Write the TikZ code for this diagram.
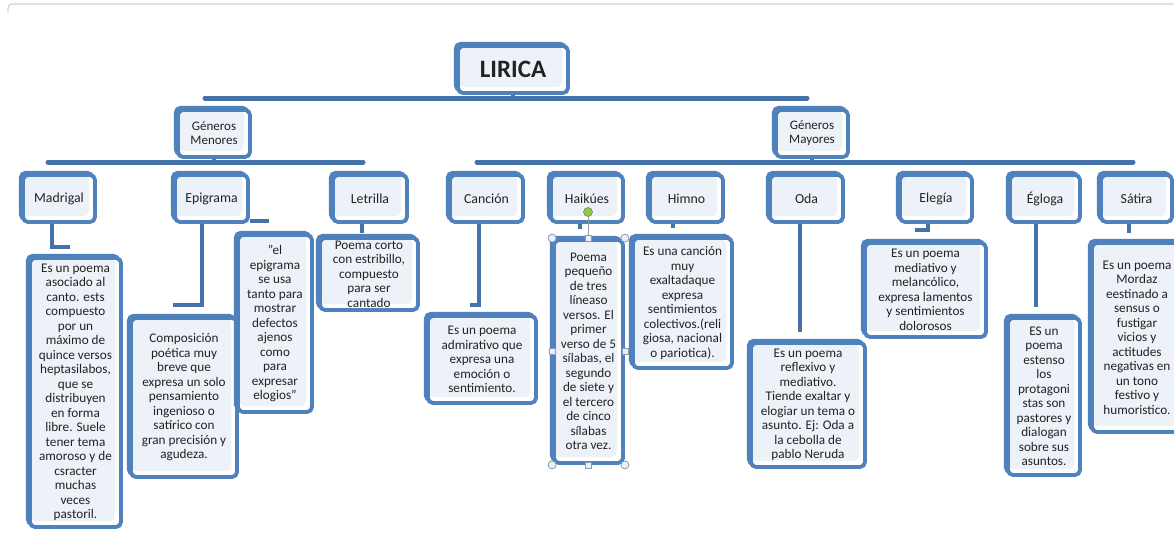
\documentclass[tikz,border=0pt]{standalone}
\usepackage{fontspec}
\setmainfont{Carlito}
\definecolor{bblue}{HTML}{4F81BD}
\definecolor{barc}{HTML}{4672AA}
\definecolor{lightf}{HTML}{EDF2F9}
\definecolor{txt}{HTML}{222222}
\definecolor{handfill}{HTML}{EAF0F7}
\definecolor{handdraw}{HTML}{8A9BB0}
\definecolor{rotgreen}{HTML}{8CCB3C}
\begin{document}
\begin{tikzpicture}[x=1pt,y=-1pt,
  bx/.style={draw=bblue, line width=3.8pt, rounded corners=5pt, fill=white, inner sep=1pt, align=center, text=txt,
    preaction={draw=bblue, line width=3.2pt, transform canvas={shift={(-2.5pt,2.5pt)}}},
    path picture={\fill[lightf] (path picture bounding box.north west) rectangle ([shift={(-6pt,6pt)}]path picture bounding box.south east);}},
  lbl/.style={bx, minimum height=47pt, font=\fontsize{13.8}{15}\selectfont},
  desc/.style={bx, font=\fontsize{13.2}{14.5}\selectfont},
  conn/.style={draw=barc, line width=4.5pt},
  bar/.style={draw=barc, line width=5pt, line cap=round},
  handc/.style={circle, draw=handdraw, fill=handfill, line width=0.8pt, minimum size=8pt, inner sep=0pt},
  hands/.style={rectangle, draw=handdraw, fill=handfill, line width=0.8pt, minimum size=6pt, inner sep=0pt},
]
\useasboundingbox (0,0) rectangle (1174,539);
\fill[white] (0,0) rectangle (1174,539);
\draw[black!18, line width=1.2pt, rounded corners=4pt] (8,12) -- (8,4) -- (1174,4);

% coordinates for bars and connector ends
\coordinate (tbL) at (205,98);
\coordinate (tbR) at (807,98);
\coordinate (lbL) at (48,162);
\coordinate (lbR) at (363,162);
\coordinate (rbL) at (477,162);
\coordinate (rbR) at (1133,162);

\draw[bar] (tbL) -- (tbR);
\draw[bar] (lbL) -- (lbR);
\draw[bar] (rbL) -- (rbR);

% top nodes
\node[lbl, minimum width=110pt, font=\fontsize{25}{27}\selectfont\bfseries] (lirica) at (513,69.5) {LIRICA};
\node[lbl, minimum width=72pt, font=\fontsize{13}{14}\selectfont] (gmen) at (214,133.5) {Géneros\\Menores};
\node[lbl, minimum width=72pt, font=\fontsize{13}{14}\selectfont] (gmay) at (812,133.5) {Géneros\\Mayores};

\draw[conn] (lirica.south) -- (lirica.south |- tbL);
\draw[conn] (gmen.south) -- (gmen.south |- lbL);
\draw[conn] (gmay.south) -- (gmay.south |- rbL);

% level 3 nodes
\node[lbl, minimum width=72pt] (madrigal) at (59,198.5) {Madrigal};
\node[lbl, minimum width=73pt] (epigrama) at (211.5,198.5) {Epigrama};
\node[lbl, minimum width=74pt] (letrilla) at (370,198.5) {Letrilla};
\node[lbl, minimum width=73pt] (cancion) at (486.5,198.5) {Canción};
\node[lbl, minimum width=72pt] (haikues) at (587,198.5) {Haikúes};
\node[lbl, minimum width=73pt] (himno) at (686.5,198.5) {Himno};
\node[lbl, minimum width=73pt] (oda) at (806.5,198.5) {Oda};
\node[lbl, minimum width=72pt] (elegia) at (936,198.5) {Elegía};
\node[lbl, minimum width=70pt] (egloga) at (1045,198.5) {Égloga};
\node[lbl, minimum width=71pt] (satira) at (1136.5,198.5) {Sátira};

% connector free ends
\coordinate (m1) at (52,247);   \coordinate (m2) at (70,247);
\coordinate (e1) at (202,305);  \coordinate (e2) at (173,305);
\coordinate (e3) at (269,221);
\coordinate (l1) at (362,233);
\coordinate (c1) at (479,305);  \coordinate (c2) at (470,305);
\coordinate (h1) at (580,229);
\coordinate (hm1) at (673,228);
\coordinate (o1) at (800,332);
\coordinate (el1) at (928,230); \coordinate (el2) at (915,230);
\coordinate (eg1) at (1036,307);
\coordinate (s1) at (1129,233);

\draw[conn] (madrigal.south -| m1) -- (m1) -- (m2);
\draw[conn] (epigrama.south -| e1) -- (e1) -- (e2);
\draw[conn] (epigrama.east |- e3) -- (e3);
\draw[conn] (letrilla.south -| l1) -- (l1);
\draw[conn] (cancion.south -| c1) -- (c1) -- (c2);
\draw[conn] (haikues.south -| h1) -- (h1);
\draw[conn] (himno.south -| hm1) -- (hm1);
\draw[conn] (oda.south -| o1) -- (o1);
\draw[conn] (elegia.south -| el1) -- (el1) -- (el2);
\draw[conn] (egloga.south -| eg1) -- (eg1);
\draw[conn] (satira.south -| s1) -- (s1);

% descriptions
\node[desc, minimum width=91pt, minimum height=269pt] (dmad) at (75.5,392.5) {Es un poema\\asociado al\\canto. ests\\compuesto\\por un\\máximo de\\quince versos\\heptasilabos,\\que se\\distribuyen\\en forma\\libre. Suele\\tener tema\\amoroso y de\\csracter\\muchas\\veces\\pastoril.};
\node[desc, minimum width=106pt, minimum height=159pt] (dcomp) at (184,397.5) {Composición\\poética muy\\breve que\\expresa un solo\\pensamiento\\ingenioso o\\satírico con\\gran precisión y\\agudeza.};
\node[desc, minimum width=74pt, minimum height=177pt] (dquote) at (275,323.5) {"el\\epigrama\\se usa\\tanto para\\mostrar\\defectos\\ajenos\\como\\para\\expresar\\elogios"};
\node[desc, minimum width=98pt, minimum height=72pt] (dlet) at (369,274) {Poema corto\\con estribillo,\\compuesto\\para ser\\cantado};
\node[desc, minimum width=108pt, minimum height=87pt] (dcan) at (482,359.5) {Es un poema\\admirativo que\\expresa una\\emoción o\\sentimiento.};
\node[desc, minimum width=69pt, minimum height=223pt] (dhai) at (588.5,351.5) {Poema\\pequeño\\de tres\\líneaso\\versos. El\\primer\\verso de 5\\sílabas, el\\segundo\\de siete y\\el tercero\\de cinco\\sílabas\\otra vez.};
\node[desc, minimum width=99pt, minimum height=130pt] (dhim) at (682.5,303) {Es una canción\\muy\\exaltadaque\\expresa\\sentimientos\\colectivos.(reli\\giosa, nacional\\o pariotica).};
\node[desc, minimum width=114pt, minimum height=124pt] (doda) at (808,405) {Es un poema\\reflexivo y\\mediativo.\\Tiende exaltar y\\elogiar un tema o\\asunto. Ej: Oda a\\la cebolla de\\pablo Neruda};
\node[desc, minimum width=121pt, minimum height=94pt] (deleg) at (925.5,290) {Es un poema\\mediativo y\\melancólico,\\expresa lamentos\\y sentimientos\\dolorosos};
\node[desc, minimum width=72pt, minimum height=157pt] (deglo) at (1044,396.5) {ES un\\poema\\estenso\\los\\protagoni\\stas son\\pastores y\\dialogan\\sobre sus\\asuntos.};
\node[desc, minimum width=90pt, minimum height=189pt] (dsat) at (1137,337.5) {Es un poema\\Mordaz\\eestinado a\\sensus o\\fustigar\\vicios y\\actitudes\\negativas en\\un tono\\festivo y\\humoristico.};

% selection handles on the Haikues description
\node[circle, draw=gray, fill=rotgreen, line width=0.6pt, minimum size=9pt, inner sep=0pt] (rot) at (588,212) {};
\draw[handdraw, line width=0.8pt] (rot.south) -- (dhai.north -| rot);
\node[handc] (hnw) at (dhai.north west) {};
\node[handc] (hne) at (dhai.north east) {};
\node[handc] (hsw) at (dhai.south west) {};
\node[handc] (hse) at (dhai.south east) {};
\node[hands] (hn) at (dhai.north) {};
\node[hands] (hs) at (dhai.south) {};
\node[hands] (hw) at (dhai.west) {};
\node[hands] (he) at (dhai.east) {};
\end{tikzpicture}
\end{document}
